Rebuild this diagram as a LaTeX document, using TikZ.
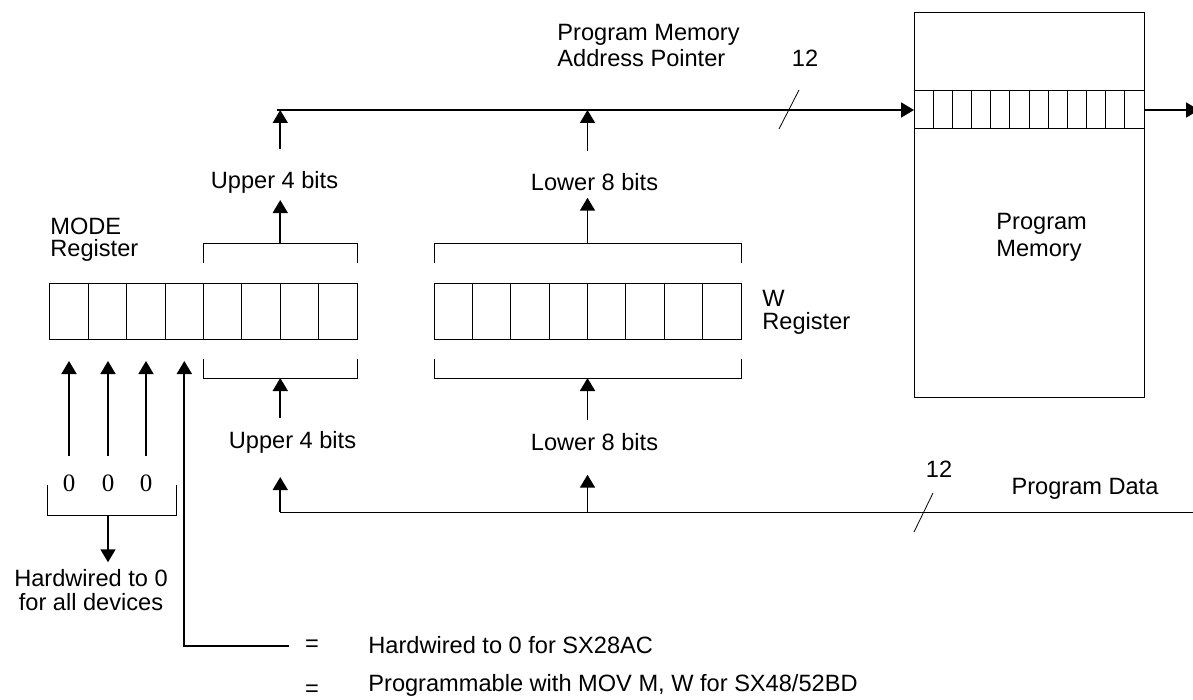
\documentclass[tikz,border=0pt]{standalone}
\usepackage{fontspec}
\setmainfont{Liberation Sans}
\newfontfamily\zerofont{Liberation Serif}
\usetikzlibrary{arrows.meta,positioning,calc}

\begin{document}
\begin{tikzpicture}[
  x=0.5pt, y=-0.5pt,
  font=\fontsize{11.8}{13}\selectfont,
  cell/.style={rectangle, draw, line width=0.5pt, outer sep=0pt, inner sep=0pt,
               minimum width=19.19pt, minimum height=28pt},
  pccell/.style={cell, minimum width=9.583pt, minimum height=19pt},
  arrow/.style={-{Triangle[width=7.5pt,length=6.5pt]}, line width=0.9pt},
  bracket/.style={line width=0.5pt},
  aline/.style={line width=1pt},
  dline/.style={line width=0.5pt},
  slash/.style={line width=0.4pt},
  txt/.style={align=left},
  zero/.style={font=\zerofont\fontsize{12.5}{13}\selectfont}
]
\useasboundingbox (0,0) rectangle (1193,700);

% MODE register
\foreach \i in {1,...,8}
  \node[cell] (m\i) at ({50+(\i-0.5)*38.375},311) {};
\node[txt, anchor=west, inner sep=0pt, font=\fontsize{11.8}{11}\selectfont] (modelbl) at (50,240) {MODE\\Register};

% W register
\foreach \i in {1,...,8}
  \node[cell] (w\i) at ({434+(\i-0.5)*38.375},311) {};
\node[txt, anchor=west, inner sep=0pt, font=\fontsize{11.8}{11.5}\selectfont] (wlbl) at (762,312) {W\\Register};

% Program memory with its address pointer
\node[draw, line width=0.5pt, outer sep=0pt, minimum width=115pt, minimum height=192pt,
      anchor=north west] (pmem) at (914,13) {};
\foreach \i in {1,...,12}
  \node[pccell] (p\i) at ({914+(\i-0.5)*19.1667},110) {};
\node[txt, anchor=west, inner sep=0pt, font=\fontsize{11.8}{13.5}\selectfont] (pmlbl) at (996,237) {Program\\Memory};
\node[txt, anchor=west, inner sep=0pt] (pmap) at (557,45) {Program Memory\\Address Pointer};
\node (abits) at (805,58) {12};

% brackets over / under the registers
\draw[bracket] ($(m5.north west)+(0,-20)$) -- ($(m5.north west)+(0,-39)$)
  -- ($(m8.north east)+(0,-39)$) -- ($(m8.north east)+(0,-20)$);
\draw[bracket] ($(w1.north west)+(0,-20)$) -- ($(w1.north west)+(0,-39)$)
  -- ($(w8.north east)+(0,-39)$) -- ($(w8.north east)+(0,-20)$);
\draw[bracket] ($(m5.south west)+(0,20)$) -- ($(m5.south west)+(0,39)$)
  -- ($(m8.south east)+(0,39)$) -- ($(m8.south east)+(0,20)$);
\draw[bracket] ($(w1.south west)+(0,20)$) -- ($(w1.south west)+(0,39)$)
  -- ($(w8.south east)+(0,39)$) -- ($(w8.south east)+(0,20)$);
\coordinate (mtop) at ($(m6.north east)+(0,-39)$);
\coordinate (wtop) at ($(w4.north east)+(0,-39)$);
\coordinate (mbot) at ($(m6.south east)+(0,39)$);
\coordinate (wbot) at ($(w4.south east)+(0,39)$);

% upper / lower bits labels
\node (up4) at (274.5,182) {Upper 4 bits};
\node (lo8) at (594.5,182) {Lower 8 bits};
\node (up4in) at (292.5,442) {Upper 4 bits};
\node (lo8in) at (594.5,442) {Lower 8 bits};

% address pointer bus
\coordinate (addr) at (277,110);
\coordinate (pmout) at (1199,110);
\draw[arrow] (mtop) -- (mtop |- up4.south);
\draw[arrow] (wtop) -- (wtop |- lo8.south);
\draw[arrow, shorten <=7.5pt] (mtop |- up4.north) -- (mtop |- addr);
\draw[arrow, shorten <=7.5pt] (wtop |- lo8.north) -- (wtop |- addr);
\draw[aline, arrow] (addr) -- (p1.west);
\draw[aline, arrow] (p12.east) -- (pmout);
\coordinate (aslash) at (789,110);
\draw[slash] ($(aslash)+(-10,19)$) -- ($(aslash)+(10,-20)$);

% program data bus
\coordinate (dataL) at (280.25,512);
\coordinate (dataR) at (1195,512);
\draw[dline] (dataL) -- (dataR);
\draw[arrow, shorten <=3pt] (mbot |- up4in.north) -- (mbot);
\draw[arrow, shorten <=3pt] (wbot |- lo8in.north) -- (wbot);
\draw[arrow, shorten >=8.5pt] (dataL) -- (dataL |- up4in.south);
\draw[arrow, shorten >=8.5pt] (wbot |- dataL) -- (wbot |- lo8in.south);
\coordinate (dslash) at (923.5,512);
\draw[slash] ($(dslash)+(-9.5,20)$) -- ($(dslash)+(9.5,-19)$);
\node (dbits) at (939,469) {12};
\node (pdata) at (1085,489) {Program Data};

% hardwired bits of MODE
\foreach \i/\x in {1/69,2/108,3/146} {
  \node[zero] (z\i) at (\x,483) {0};
  \draw[arrow, shorten <=6pt, shorten >=11pt] (z\i.north) -- (z\i.north |- m\i.south);
}
\draw[bracket] ($(z1)+(-22,2)$) -- ($(z1)+(-22,32)$) -- ($(z3)+(30,32)$) -- ($(z3)+(30,2)$);
\node[align=center, font=\fontsize{11.8}{12}\selectfont] (hwall) at (91,590) {Hardwired to 0\\for all devices};
\draw[arrow] ($(z2)+(0,32)$) -- (hwall.north -| z2);

% legend
\node[inner sep=1pt] (eq1) at (312,646) {=};
\node[anchor=west, inner sep=0pt] (sx28) at (368,645) {Hardwired to 0 for SX28AC};
\node[inner sep=1pt] (eq2) at (312,691) {=};
\node[anchor=west, inner sep=0pt] (sx48) at (368,685) {Programmable with MOV M, W for SX48/52BD};
\draw[arrow, shorten >=11pt] ($(eq1.west)+(-14,0)$) -| (m4.south);

\end{tikzpicture}
\end{document}
